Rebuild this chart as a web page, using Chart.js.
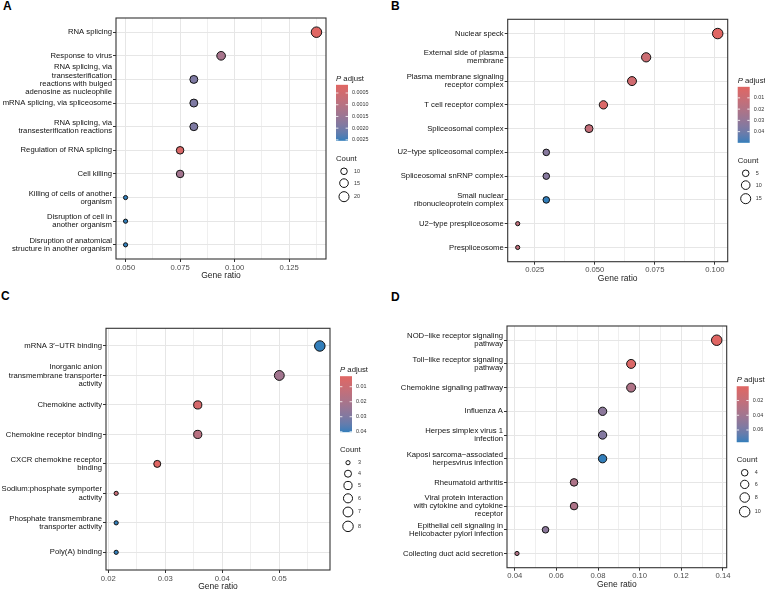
<!DOCTYPE html>
<html>
<head>
<meta charset="utf-8">
<script src="https://cdn.jsdelivr.net/npm/chart.js@4.4.1/dist/chart.umd.min.js"></script>
<style>
  html, body { margin: 0; padding: 0; background: #fff; width: 765px; height: 590px; overflow: hidden; }
  canvas { position: absolute; left: 0; top: 0; }
  .tag { position: absolute; font: bold 12px "Liberation Sans", Arial, sans-serif; line-height: 12px; color: #000; }
</style>
</head>
<body>
<div class="tag" style="left:3px;top:0px">A</div>
<div class="tag" style="left:391px;top:0px">B</div>
<div class="tag" style="left:1px;top:290px">C</div>
<div class="tag" style="left:391px;top:291px">D</div>
<canvas id="cA" width="765" height="600"></canvas>
<canvas id="cB" width="765" height="600"></canvas>
<canvas id="cC" width="765" height="600"></canvas>
<canvas id="cD" width="765" height="600"></canvas>
<script>
const FONT = '"Liberation Sans", Arial, sans-serif';
const LOW = '#e06663', HIGH = '#327eba';

// ---- A: biological process
const termsA = [
  'RNA splicing',
  'Response to virus',
  ['RNA splicing, via', 'transesterification', 'reactions with bulged', 'adenosine as nucleophile'],
  'mRNA splicing, via spliceosome',
  ['RNA splicing, via', 'transesterification reactions'],
  'Regulation of RNA splicing',
  'Cell killing',
  ['Killing of cells of another', 'organism'],
  ['Disruption of cell in', 'another organism'],
  ['Disruption of anatomical', 'structure in another organism']
];
const ratioA = [0.1375, 0.0938, 0.0813, 0.0813, 0.0813, 0.075, 0.075, 0.05, 0.05, 0.05];
const countA = [22, 15, 13, 13, 13, 12, 12, 8, 8, 8];
const padjA = [0.00015, 0.00128, 0.0019, 0.0019, 0.0019, 0.00028, 0.00135, 0.00254, 0.00254, 0.00254];
const xTicksA = [0.05, 0.075, 0.1, 0.125];
const xLabelsA = ['0.050', '0.075', '0.100', '0.125'];
const pTicksA = [0.0005, 0.001, 0.0015, 0.002, 0.0025];
const pLabelsA = ['0.0005', '0.0010', '0.0015', '0.0020', '0.0025'];
const sizeKeysA = [10, 15, 20];

// ---- B: cellular component
const termsB = [
  'Nuclear speck',
  ['External side of plasma', 'membrane'],
  ['Plasma membrane signaling', 'receptor complex'],
  'T cell receptor complex',
  'Spliceosomal complex',
  'U2\u2212type spliceosomal complex',
  'Spliceosomal snRNP complex',
  ['Small nuclear', 'ribonucleoprotein complex'],
  'U2\u2212type prespliceosome',
  'Prespliceosome'
];
const ratioB = [0.1012, 0.0714, 0.0655, 0.0536, 0.0476, 0.0298, 0.0298, 0.0298, 0.0179, 0.0179];
const countB = [17, 12, 11, 9, 8, 5, 5, 5, 3, 3];
const padjB = [0.0002, 0.0095, 0.0075, 0.003, 0.0125, 0.034, 0.034, 0.0499, 0.014, 0.014];
const xTicksB = [0.025, 0.05, 0.075, 0.1];
const xLabelsB = ['0.025', '0.050', '0.075', '0.100'];
const pTicksB = [0.01, 0.02, 0.03, 0.04];
const pLabelsB = ['0.01', '0.02', '0.03', '0.04'];
const sizeKeysB = [5, 10, 15];

// ---- C: molecular function
const termsC = [
  'mRNA 3\u2032\u2212UTR binding',
  ['Inorganic anion', 'transmembrane transporter', 'activity'],
  'Chemokine activity',
  'Chemokine receptor binding',
  ['CXCR chemokine receptor', 'binding'],
  ['Sodium:phosphate symporter', 'activity'],
  ['Phosphate transmembrane', 'transporter activity'],
  'Poly(A) binding'
];
const ratioC = [0.0571, 0.05, 0.0357, 0.0357, 0.0286, 0.0214, 0.0214, 0.0214];
const countC = [8, 7, 5, 5, 4, 3, 3, 3];
const padjC = [0.0403, 0.022, 0.0065, 0.016, 0.003, 0.011, 0.0403, 0.0403];
const xTicksC = [0.02, 0.03, 0.04, 0.05];
const xLabelsC = ['0.02', '0.03', '0.04', '0.05'];
const pTicksC = [0.01, 0.02, 0.03, 0.04];
const pLabelsC = ['0.01', '0.02', '0.03', '0.04'];
const sizeKeysC = [3, 4, 5, 6, 7, 8];

// ---- D: KEGG
const termsD = [
  ['NOD\u2212like receptor signaling', 'pathway'],
  ['Toll\u2212like receptor signaling', 'pathway'],
  'Chemokine signaling pathway',
  'Influenza A',
  ['Herpes simplex virus 1', 'infection'],
  ['Kaposi sarcoma\u2212associated', 'herpesvirus infection'],
  'Rheumatoid arthritis',
  ['Viral protein interaction', 'with cytokine and cytokine', 'receptor'],
  ['Epithelial cell signaling in', 'Helicobacter pylori infection'],
  'Collecting duct acid secretion'
];
const ratioD = [0.137, 0.0959, 0.0959, 0.0822, 0.0822, 0.0822, 0.0685, 0.0685, 0.0548, 0.0411];
const countD = [10, 7, 7, 6, 6, 6, 5, 5, 4, 3];
const padjD = [0.0006, 0.004, 0.032, 0.05, 0.054, 0.0766, 0.033, 0.033, 0.05, 0.031];
const xTicksD = [0.04, 0.06, 0.08, 0.1, 0.12, 0.14];
const xLabelsD = ['0.04', '0.06', '0.08', '0.10', '0.12', '0.14'];
const pTicksD = [0.02, 0.04, 0.06];
const pLabelsD = ['0.02', '0.04', '0.06'];
const sizeKeysD = [4, 6, 8, 10];

// colour ramp in Lab, like ggplot's gradient
function hexRgb(h) { return [1, 3, 5].map(i => parseInt(h.slice(i, i + 2), 16)); }
function toLab(rgb) {
  const [R, G, B] = rgb.map(c => { c /= 255; return c <= 0.04045 ? c / 12.92 : Math.pow((c + 0.055) / 1.055, 2.4); });
  const X = (0.4124564 * R + 0.3575761 * G + 0.1804375 * B) / 0.95047;
  const Y = 0.2126729 * R + 0.7151522 * G + 0.0721750 * B;
  const Z = (0.0193339 * R + 0.1191920 * G + 0.9503041 * B) / 1.08883;
  const f = t => t > 0.008856 ? Math.cbrt(t) : 7.787 * t + 16 / 116;
  const fx = f(X), fy = f(Y), fz = f(Z);
  return [116 * fy - 16, 500 * (fx - fy), 200 * (fy - fz)];
}
function fromLab([L, a, b]) {
  const fy = (L + 16) / 116, fx = fy + a / 500, fz = fy - b / 200;
  const g = t => { const t3 = t * t * t; return t3 > 0.008856 ? t3 : (t - 16 / 116) / 7.787; };
  const X = g(fx) * 0.95047, Y = g(fy), Z = g(fz) * 1.08883;
  const lin = [3.2404542 * X - 1.5371385 * Y - 0.4985314 * Z,
               -0.9692660 * X + 1.8760108 * Y + 0.0415560 * Z,
               0.0556434 * X - 0.2040259 * Y + 1.0572252 * Z];
  return lin.map(c => {
    c = c <= 0.0031308 ? 12.92 * c : 1.055 * Math.pow(c, 1 / 2.4) - 0.055;
    return Math.round(Math.min(1, Math.max(0, c)) * 255);
  });
}
const LAB_LO = toLab(hexRgb(LOW)), LAB_HI = toLab(hexRgb(HIGH));
function ramp(t) {
  t = Math.min(1, Math.max(0, t));
  return 'rgb(' + fromLab(LAB_LO.map((v, i) => v + (LAB_HI[i] - v) * t)).join(',') + ')';
}

const boxPlugin = {
  id: 'panelBox',
  afterDraw(chart) {
    const a = chart.chartArea, ctx = chart.ctx;
    ctx.save();
    ctx.strokeStyle = '#333';
    ctx.lineWidth = 1.1;
    ctx.strokeRect(a.left, a.top, a.right - a.left, a.bottom - a.top);
    ctx.restore();
  }
};

function makePanel(id, p) {
  const n = p.terms.length;
  const pMin = Math.min(...p.padj), pMax = Math.max(...p.padj);
  const cMin = Math.min(...p.count), cMax = Math.max(...p.count);
  const lo = Math.min(...p.ratio), hi = Math.max(...p.ratio);
  const xMin = lo - (hi - lo) * 0.05, xMax = hi + (hi - lo) * 0.05;

  // major ticks plus minor ones half way
  const step = p.xTicks[1] - p.xTicks[0];
  const ticks = p.xTicks.map((v, i) => ({ value: v, major: true, label: p.xLabels[i] }));
  for (let i = -1; i < p.xTicks.length; i++) {
    const v = p.xTicks[0] + (i + 0.5) * step;
    if (v > xMin && v < xMax) ticks.push({ value: v, major: false, label: '' });
  }
  ticks.sort((a, b) => a.value - b.value);
  const findTick = v => ticks.find(t => Math.abs(t.value - v) < step * 0.01);
  const isMajor = c => { const t = c.tick && findTick(c.tick.value); return t && t.major; };

  const outerR = c => 2.6 + 3.15 * Math.sqrt(cMax > cMin ? (c - cMin) / (cMax - cMin) : 1);
  const colour = v => ramp((v - pMin) / (pMax - pMin));

  const legendPlugin = {
    id: 'keys',
    afterDraw(chart) {
      const a = chart.chartArea, ctx = chart.ctx;
      const x0 = a.right + 10;
      // vertical layout relative to title
      const d = p.sizeKeys.map(c => outerR(c) * 2);
      const cy = [92.5];
      for (let i = 1; i < d.length; i++) cy.push(cy[i - 1] + Math.max(11, (d[i - 1] + d[i]) / 2 + 3.2));
      const hb = cy[cy.length - 1] + d[d.length - 1] / 2 + 4;
      const y0 = (a.top + a.bottom) / 2 - hb / 2 + 4;
      ctx.save();
      ctx.textBaseline = 'middle';
      ctx.textAlign = 'left';
      ctx.fillStyle = '#1a1a1a';
      ctx.font = 'italic 7.75px ' + FONT;
      ctx.fillText('P', x0, y0);
      const pw = ctx.measureText('P').width;
      ctx.font = '7.75px ' + FONT;
      ctx.fillText(' adjust', x0 + pw, y0);
      // colour bar
      const bt = y0 + 6, bh = 56, bw = 12;
      const grad = ctx.createLinearGradient(0, bt, 0, bt + bh);
      for (let k = 0; k <= 20; k++) grad.addColorStop(k / 20, ramp(k / 20));
      ctx.fillStyle = grad;
      ctx.fillRect(x0, bt, bw, bh);
      ctx.strokeStyle = '#fff';
      ctx.lineWidth = 0.8;
      ctx.font = '5.4px ' + FONT;
      p.pTicks.forEach((v, i) => {
        const y = bt + (v - pMin) / (pMax - pMin) * bh;
        ctx.beginPath();
        ctx.moveTo(x0, y); ctx.lineTo(x0 + 2.4, y);
        ctx.moveTo(x0 + bw - 2.4, y); ctx.lineTo(x0 + bw, y);
        ctx.stroke();
        ctx.fillStyle = '#333';
        ctx.fillText(p.pLabels[i], x0 + 16, y);
      });
      // size keys
      ctx.fillStyle = '#1a1a1a';
      ctx.font = '7.75px ' + FONT;
      ctx.fillText('Count', x0, y0 + 80);
      p.sizeKeys.forEach((c, i) => {
        const y = y0 + cy[i];
        ctx.beginPath();
        ctx.arc(x0 + 8, y, outerR(c) - 0.5, 0, Math.PI * 2);
        ctx.fillStyle = '#fff';
        ctx.fill();
        ctx.strokeStyle = '#111';
        ctx.lineWidth = 1;
        ctx.stroke();
        ctx.fillStyle = '#333';
        ctx.font = '5.4px ' + FONT;
        ctx.fillText(String(c), x0 + 18, y);
      });
      ctx.restore();
    }
  };

  new Chart(document.getElementById(id), {
    type: 'bubble',
    data: {
      datasets: [{
        data: p.ratio.map((x, i) => ({ x: x, y: i, r: outerR(p.count[i]) - 0.5 })),
        backgroundColor: p.padj.map(colour),
        borderColor: '#111',
        borderWidth: 1
      }]
    },
    options: {
      responsive: false,
      animation: false,
      events: [],
      layout: {
        padding: { left: p.box.padL, right: 765 - p.box.r, top: p.box.t, bottom: 600 - p.box.b - 22 }
      },
      plugins: { legend: { display: false }, tooltip: { enabled: false } },
      scales: {
        x: {
          type: 'linear',
          min: xMin,
          max: xMax,
          afterBuildTicks: s => { s.ticks = ticks.map(t => ({ value: t.value })); },
          afterFit: s => { s.height = 22; },
          border: { display: false },
          grid: {
            color: c => isMajor(c) ? '#e6e6e6' : '#efefef',
            lineWidth: 1,
            tickLength: 3,
            tickColor: c => isMajor(c) ? '#333' : 'rgba(0,0,0,0)'
          },
          ticks: {
            autoSkip: false,
            maxRotation: 0,
            padding: 1,
            color: '#4d4d4d',
            font: { family: FONT, size: 7.7 },
            callback: v => { const t = findTick(v); return t ? t.label : ''; }
          },
          title: {
            display: true,
            text: 'Gene ratio',
            color: '#1a1a1a',
            font: { family: FONT, size: 8.5, lineHeight: 1.2 },
            padding: 0
          }
        },
        y: {
          type: 'linear',
          reverse: true,
          min: -0.6,
          max: n - 0.4,
          afterBuildTicks: s => { s.ticks = p.terms.map((t, i) => ({ value: i })); },
          afterFit: s => { s.width = p.box.l - p.box.padL; },
          border: { display: false },
          grid: { color: '#e6e6e6', lineWidth: 1, tickLength: 3, tickColor: '#333' },
          ticks: {
            autoSkip: false,
            padding: 1,
            color: '#111',
            font: { family: FONT, size: 7.7, lineHeight: 1.05 },
            callback: v => p.terms[Math.round(v)]
          }
        }
      }
    },
    plugins: [boxPlugin, legendPlugin]
  });
}

makePanel('cA', { terms: termsA, ratio: ratioA, count: countA, padj: padjA, xTicks: xTicksA, xLabels: xLabelsA,
  pTicks: pTicksA, pLabels: pLabelsA, sizeKeys: sizeKeysA, box: { padL: 0, l: 116, r: 326, t: 18, b: 259 } });
makePanel('cB', { terms: termsB, ratio: ratioB, count: countB, padj: padjB, xTicks: xTicksB, xLabels: xLabelsB,
  pTicks: pTicksB, pLabels: pLabelsB, sizeKeys: sizeKeysB, box: { padL: 380, l: 507.7, r: 727.7, t: 19.3, b: 261.7 } });
makePanel('cC', { terms: termsC, ratio: ratioC, count: countC, padj: padjC, xTicks: xTicksC, xLabels: xLabelsC,
  pTicks: pTicksC, pLabels: pLabelsC, sizeKeys: sizeKeysC, box: { padL: 0, l: 106, r: 330, t: 328.3, b: 570 } });
makePanel('cD', { terms: termsD, ratio: ratioD, count: countD, padj: padjD, xTicks: xTicksD, xLabels: xLabelsD,
  pTicks: pTicksD, pLabels: pLabelsD, sizeKeys: sizeKeysD, box: { padL: 380, l: 507, r: 726.7, t: 326, b: 567.7 } });
</script>
</body>
</html>
